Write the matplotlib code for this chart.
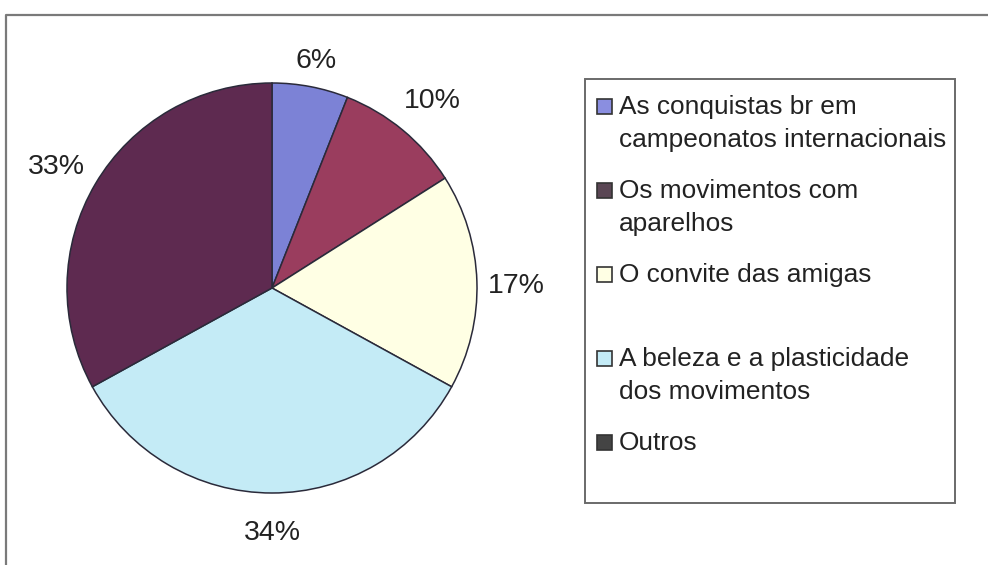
import matplotlib
matplotlib.use("Agg")
import numpy as np
import matplotlib.pyplot as plt
from matplotlib.patches import Rectangle

plt.rcParams['font.family'] = ['Liberation Sans', 'DejaVu Sans']

categories = ["As conquistas br em\ncampeonatos internacionais",
              "Os movimentos com\naparelhos",
              "O convite das amigas",
              "A beleza e a plasticidade\ndos movimentos",
              "Outros"]
values = [6, 10, 17, 34, 33]
pie_colors = ["#7c82d6", "#9a3d5e", "#ffffe4", "#c4ebf6", "#5e2a50"]
legend_colors = ["#8a8ee0", "#5a4654", "#ffffe4", "#c4ebf6", "#444444"]
label_dist = [1.16, 1.225, 1.19, 1.165, 1.22]

W, H = 988, 565
fig = plt.figure(figsize=(W / 100, H / 100), dpi=100)
fig.patch.set_facecolor("white")

ov = fig.add_axes([0, 0, 1, 1])
ov.set_xlim(0, W)
ov.set_ylim(H, 0)
ov.axis("off")

# outer chart frame
ov.plot([6, 6, W + 5], [H + 5, 15, 15], color="#7a7a7a", lw=1.6, solid_capstyle="butt")

# pie
cx, cy, r = 272, 288, 205
ax = fig.add_axes([(cx - r) / W, (H - cy - r) / H, 2 * r / W, 2 * r / H])
wedges, texts = ax.pie(values, colors=pie_colors, startangle=90, counterclock=False,
                       radius=1.0, wedgeprops=dict(edgecolor="#2a2a3a", linewidth=1.1))
for w, v, d in zip(wedges, values, label_dist):
    ang = np.deg2rad((w.theta1 + w.theta2) / 2)
    ax.text(d * np.cos(ang), d * np.sin(ang) - 0.03, f"{v}%", fontsize=20.5,
            color="#222222", ha="center", va="center", clip_on=False)
ax.set_xlim(-1, 1)
ax.set_ylim(-1, 1)
ax.set_aspect("equal")
ax.axis("off")

# legend box
lx0, ly0, lx1, ly1 = 585, 79, 955, 503
ov.add_patch(Rectangle((lx0, ly0), lx1 - lx0, ly1 - ly0, facecolor="white",
                       edgecolor="#6a6a6a", lw=1.4))
first_y = 107
step = 84
line_h = 33
for i, (lab, col) in enumerate(zip(categories, legend_colors)):
    y = first_y + i * step
    ov.add_patch(Rectangle((597, y - 8), 15, 15, facecolor=col, edgecolor="#333333", lw=1.2))
    for j, line in enumerate(lab.split("\n")):
        ov.text(619, y + j * line_h, line, fontsize=18.9, color="#222222",
                va="center", ha="left")

fig.savefig("out.png", dpi=100, facecolor="white")
